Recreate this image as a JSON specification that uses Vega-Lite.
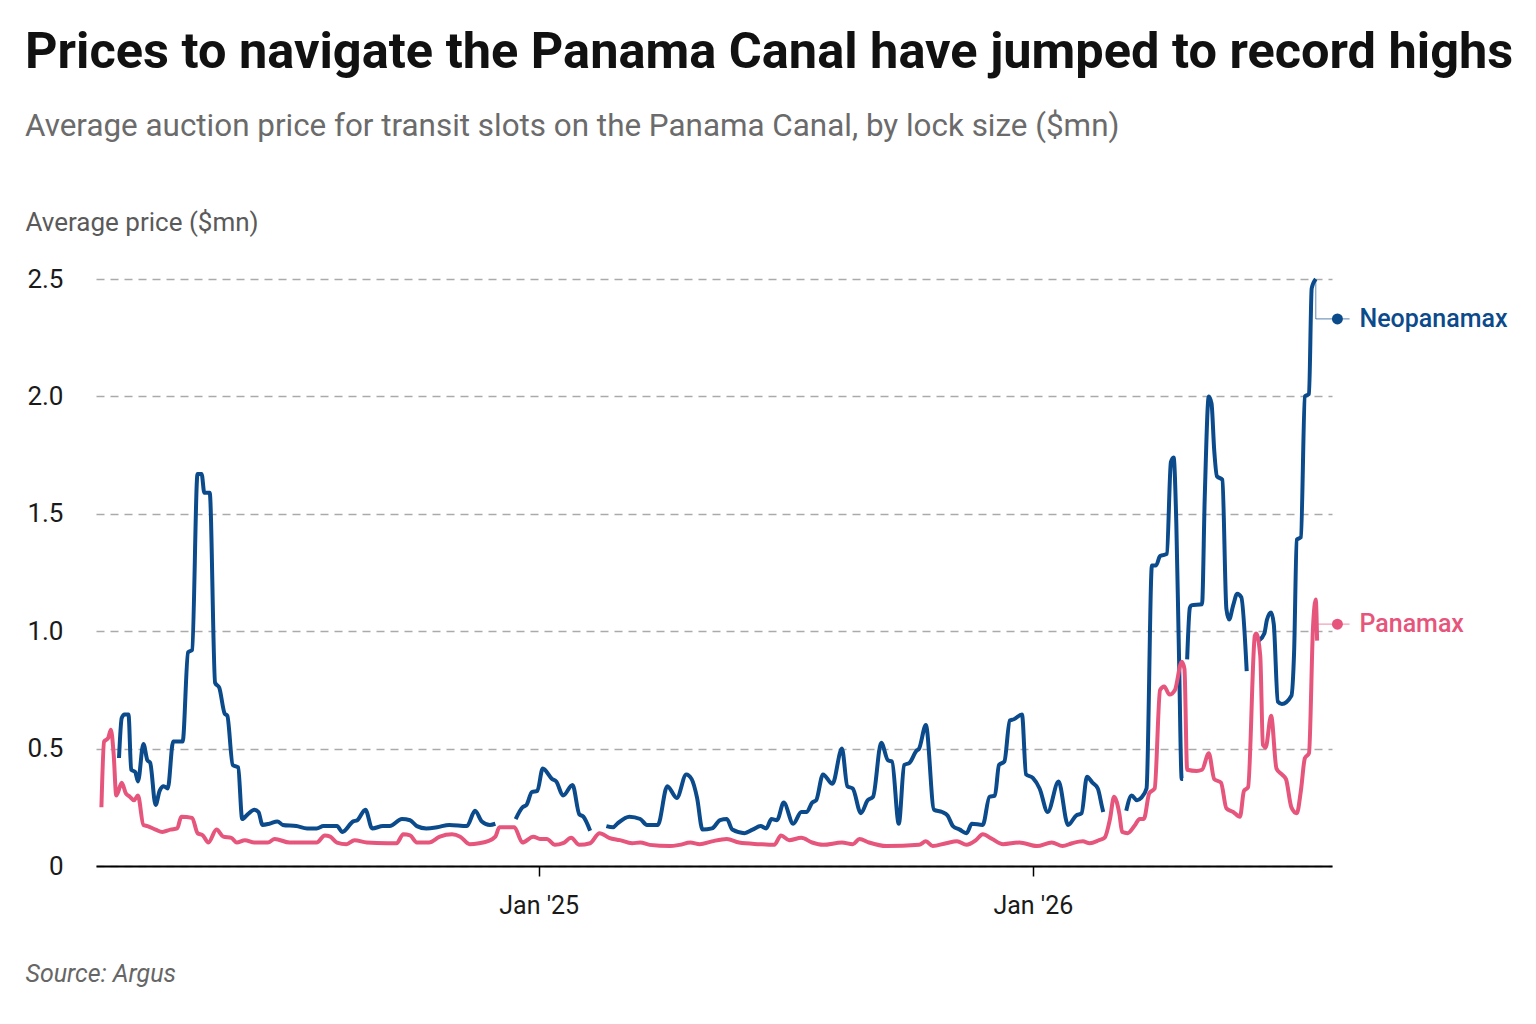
{
  "$schema": "https://vega.github.io/schema/vega-lite/v6.json",
  "width": 1236,
  "height": 587,
  "autosize": {"type": "none"},
  "padding": {"left": 96, "top": 279, "right": 204, "bottom": 158},
  "background": "white",
  "title": {
    "text": "Prices to navigate the Panama Canal have jumped to record highs",
    "subtitle": "Average auction price for transit slots on the Panama Canal, by lock size ($mn)",
    "anchor": "start",
    "frame": "bounds",
    "font": "Roboto",
    "fontSize": 50.5,
    "fontWeight": "bold",
    "color": "#111111",
    "subtitleFont": "Roboto",
    "subtitleFontSize": 31.4,
    "subtitleColor": "#6b6b6b",
    "subtitlePadding": 32,
    "offset": 67
  },
  "datasets": {
    "prices": [
      {"date": "2024-02-26", "series": "Neopanamax", "value": 0.46},
      {"date": "2024-02-28", "series": "Neopanamax", "value": 0.63},
      {"date": "2024-03-01", "series": "Neopanamax", "value": 0.645},
      {"date": "2024-03-04", "series": "Neopanamax", "value": 0.645},
      {"date": "2024-03-06", "series": "Neopanamax", "value": 0.41},
      {"date": "2024-03-09", "series": "Neopanamax", "value": 0.40},
      {"date": "2024-03-11", "series": "Neopanamax", "value": 0.36},
      {"date": "2024-03-15", "series": "Neopanamax", "value": 0.52},
      {"date": "2024-03-18", "series": "Neopanamax", "value": 0.45},
      {"date": "2024-03-20", "series": "Neopanamax", "value": 0.44},
      {"date": "2024-03-24", "series": "Neopanamax", "value": 0.26},
      {"date": "2024-03-27", "series": "Neopanamax", "value": 0.32},
      {"date": "2024-03-30", "series": "Neopanamax", "value": 0.34},
      {"date": "2024-04-02", "series": "Neopanamax", "value": 0.33},
      {"date": "2024-04-06", "series": "Neopanamax", "value": 0.53},
      {"date": "2024-04-13", "series": "Neopanamax", "value": 0.53},
      {"date": "2024-04-17", "series": "Neopanamax", "value": 0.91},
      {"date": "2024-04-20", "series": "Neopanamax", "value": 0.92},
      {"date": "2024-04-24", "series": "Neopanamax", "value": 1.67},
      {"date": "2024-04-27", "series": "Neopanamax", "value": 1.67},
      {"date": "2024-04-29", "series": "Neopanamax", "value": 1.59},
      {"date": "2024-05-03", "series": "Neopanamax", "value": 1.59},
      {"date": "2024-05-07", "series": "Neopanamax", "value": 0.78},
      {"date": "2024-05-10", "series": "Neopanamax", "value": 0.76},
      {"date": "2024-05-14", "series": "Neopanamax", "value": 0.65},
      {"date": "2024-05-16", "series": "Neopanamax", "value": 0.64},
      {"date": "2024-05-20", "series": "Neopanamax", "value": 0.43},
      {"date": "2024-05-24", "series": "Neopanamax", "value": 0.42},
      {"date": "2024-05-27", "series": "Neopanamax", "value": 0.20},
      {"date": "2024-05-31", "series": "Neopanamax", "value": 0.22},
      {"date": "2024-06-05", "series": "Neopanamax", "value": 0.24},
      {"date": "2024-06-08", "series": "Neopanamax", "value": 0.23},
      {"date": "2024-06-11", "series": "Neopanamax", "value": 0.175},
      {"date": "2024-06-16", "series": "Neopanamax", "value": 0.18},
      {"date": "2024-06-22", "series": "Neopanamax", "value": 0.19},
      {"date": "2024-06-26", "series": "Neopanamax", "value": 0.175},
      {"date": "2024-07-06", "series": "Neopanamax", "value": 0.17},
      {"date": "2024-07-14", "series": "Neopanamax", "value": 0.16},
      {"date": "2024-07-21", "series": "Neopanamax", "value": 0.16},
      {"date": "2024-07-26", "series": "Neopanamax", "value": 0.17},
      {"date": "2024-08-05", "series": "Neopanamax", "value": 0.17},
      {"date": "2024-08-09", "series": "Neopanamax", "value": 0.145},
      {"date": "2024-08-17", "series": "Neopanamax", "value": 0.19},
      {"date": "2024-08-20", "series": "Neopanamax", "value": 0.195},
      {"date": "2024-08-26", "series": "Neopanamax", "value": 0.24},
      {"date": "2024-08-31", "series": "Neopanamax", "value": 0.16},
      {"date": "2024-09-08", "series": "Neopanamax", "value": 0.17},
      {"date": "2024-09-13", "series": "Neopanamax", "value": 0.17},
      {"date": "2024-09-22", "series": "Neopanamax", "value": 0.20},
      {"date": "2024-09-28", "series": "Neopanamax", "value": 0.195},
      {"date": "2024-10-03", "series": "Neopanamax", "value": 0.17},
      {"date": "2024-10-10", "series": "Neopanamax", "value": 0.16},
      {"date": "2024-10-18", "series": "Neopanamax", "value": 0.165},
      {"date": "2024-10-27", "series": "Neopanamax", "value": 0.175},
      {"date": "2024-11-09", "series": "Neopanamax", "value": 0.17},
      {"date": "2024-11-15", "series": "Neopanamax", "value": 0.235},
      {"date": "2024-11-20", "series": "Neopanamax", "value": 0.19},
      {"date": "2024-11-26", "series": "Neopanamax", "value": 0.175},
      {"date": "2024-11-30", "series": "Neopanamax", "value": 0.18},
      {"date": "2024-12-07", "series": "Neopanamax", "value": null},
      {"date": "2024-12-15", "series": "Neopanamax", "value": 0.20},
      {"date": "2024-12-20", "series": "Neopanamax", "value": 0.25},
      {"date": "2024-12-23", "series": "Neopanamax", "value": 0.26},
      {"date": "2024-12-27", "series": "Neopanamax", "value": 0.315},
      {"date": "2024-12-31", "series": "Neopanamax", "value": 0.32},
      {"date": "2025-01-04", "series": "Neopanamax", "value": 0.415},
      {"date": "2025-01-11", "series": "Neopanamax", "value": 0.37},
      {"date": "2025-01-14", "series": "Neopanamax", "value": 0.36},
      {"date": "2025-01-19", "series": "Neopanamax", "value": 0.30},
      {"date": "2025-01-26", "series": "Neopanamax", "value": 0.345},
      {"date": "2025-01-31", "series": "Neopanamax", "value": 0.22},
      {"date": "2025-02-03", "series": "Neopanamax", "value": 0.21},
      {"date": "2025-02-08", "series": "Neopanamax", "value": 0.15},
      {"date": "2025-02-14", "series": "Neopanamax", "value": null},
      {"date": "2025-02-20", "series": "Neopanamax", "value": 0.17},
      {"date": "2025-02-25", "series": "Neopanamax", "value": 0.165},
      {"date": "2025-02-28", "series": "Neopanamax", "value": 0.18},
      {"date": "2025-03-09", "series": "Neopanamax", "value": 0.21},
      {"date": "2025-03-17", "series": "Neopanamax", "value": 0.20},
      {"date": "2025-03-22", "series": "Neopanamax", "value": 0.175},
      {"date": "2025-03-30", "series": "Neopanamax", "value": 0.175},
      {"date": "2025-04-06", "series": "Neopanamax", "value": 0.34},
      {"date": "2025-04-13", "series": "Neopanamax", "value": 0.29},
      {"date": "2025-04-20", "series": "Neopanamax", "value": 0.39},
      {"date": "2025-04-24", "series": "Neopanamax", "value": 0.37},
      {"date": "2025-04-28", "series": "Neopanamax", "value": 0.29},
      {"date": "2025-05-02", "series": "Neopanamax", "value": 0.155},
      {"date": "2025-05-09", "series": "Neopanamax", "value": 0.16},
      {"date": "2025-05-15", "series": "Neopanamax", "value": 0.195},
      {"date": "2025-05-20", "series": "Neopanamax", "value": 0.20},
      {"date": "2025-05-24", "series": "Neopanamax", "value": 0.155},
      {"date": "2025-06-02", "series": "Neopanamax", "value": 0.14},
      {"date": "2025-06-08", "series": "Neopanamax", "value": 0.155},
      {"date": "2025-06-14", "series": "Neopanamax", "value": 0.17},
      {"date": "2025-06-18", "series": "Neopanamax", "value": 0.16},
      {"date": "2025-06-22", "series": "Neopanamax", "value": 0.20},
      {"date": "2025-06-26", "series": "Neopanamax", "value": 0.195},
      {"date": "2025-07-01", "series": "Neopanamax", "value": 0.27},
      {"date": "2025-07-08", "series": "Neopanamax", "value": 0.18},
      {"date": "2025-07-14", "series": "Neopanamax", "value": 0.23},
      {"date": "2025-07-18", "series": "Neopanamax", "value": 0.23},
      {"date": "2025-07-22", "series": "Neopanamax", "value": 0.27},
      {"date": "2025-07-25", "series": "Neopanamax", "value": 0.28},
      {"date": "2025-07-30", "series": "Neopanamax", "value": 0.39},
      {"date": "2025-08-06", "series": "Neopanamax", "value": 0.35},
      {"date": "2025-08-13", "series": "Neopanamax", "value": 0.50},
      {"date": "2025-08-17", "series": "Neopanamax", "value": 0.34},
      {"date": "2025-08-21", "series": "Neopanamax", "value": 0.33},
      {"date": "2025-08-27", "series": "Neopanamax", "value": 0.225},
      {"date": "2025-09-01", "series": "Neopanamax", "value": 0.28},
      {"date": "2025-09-05", "series": "Neopanamax", "value": 0.295},
      {"date": "2025-09-11", "series": "Neopanamax", "value": 0.525},
      {"date": "2025-09-16", "series": "Neopanamax", "value": 0.45},
      {"date": "2025-09-19", "series": "Neopanamax", "value": 0.445},
      {"date": "2025-09-24", "series": "Neopanamax", "value": 0.18},
      {"date": "2025-09-28", "series": "Neopanamax", "value": 0.43},
      {"date": "2025-10-02", "series": "Neopanamax", "value": 0.44},
      {"date": "2025-10-07", "series": "Neopanamax", "value": 0.49},
      {"date": "2025-10-09", "series": "Neopanamax", "value": 0.50},
      {"date": "2025-10-14", "series": "Neopanamax", "value": 0.60},
      {"date": "2025-10-20", "series": "Neopanamax", "value": 0.24},
      {"date": "2025-10-26", "series": "Neopanamax", "value": 0.23},
      {"date": "2025-10-30", "series": "Neopanamax", "value": 0.215},
      {"date": "2025-11-03", "series": "Neopanamax", "value": 0.17},
      {"date": "2025-11-08", "series": "Neopanamax", "value": 0.155},
      {"date": "2025-11-13", "series": "Neopanamax", "value": 0.14},
      {"date": "2025-11-17", "series": "Neopanamax", "value": 0.18},
      {"date": "2025-11-25", "series": "Neopanamax", "value": 0.175},
      {"date": "2025-11-30", "series": "Neopanamax", "value": 0.295},
      {"date": "2025-12-04", "series": "Neopanamax", "value": 0.30},
      {"date": "2025-12-07", "series": "Neopanamax", "value": 0.43},
      {"date": "2025-12-11", "series": "Neopanamax", "value": 0.445},
      {"date": "2025-12-15", "series": "Neopanamax", "value": 0.62},
      {"date": "2025-12-18", "series": "Neopanamax", "value": 0.625},
      {"date": "2025-12-24", "series": "Neopanamax", "value": 0.645},
      {"date": "2025-12-27", "series": "Neopanamax", "value": 0.39},
      {"date": "2026-01-01", "series": "Neopanamax", "value": 0.375},
      {"date": "2026-01-06", "series": "Neopanamax", "value": 0.33},
      {"date": "2026-01-12", "series": "Neopanamax", "value": 0.23},
      {"date": "2026-01-20", "series": "Neopanamax", "value": 0.36},
      {"date": "2026-01-27", "series": "Neopanamax", "value": 0.175},
      {"date": "2026-02-02", "series": "Neopanamax", "value": 0.215},
      {"date": "2026-02-06", "series": "Neopanamax", "value": 0.225},
      {"date": "2026-02-10", "series": "Neopanamax", "value": 0.38},
      {"date": "2026-02-14", "series": "Neopanamax", "value": 0.355},
      {"date": "2026-02-18", "series": "Neopanamax", "value": 0.33},
      {"date": "2026-02-21", "series": "Neopanamax", "value": 0.255},
      {"date": "2026-02-22", "series": "Neopanamax", "value": 0.23},
      {"date": "2026-02-26", "series": "Neopanamax", "value": null},
      {"date": "2026-03-11", "series": "Neopanamax", "value": 0.235},
      {"date": "2026-03-15", "series": "Neopanamax", "value": 0.30},
      {"date": "2026-03-19", "series": "Neopanamax", "value": 0.28},
      {"date": "2026-03-22", "series": "Neopanamax", "value": 0.29},
      {"date": "2026-03-26", "series": "Neopanamax", "value": 0.33},
      {"date": "2026-03-30", "series": "Neopanamax", "value": 1.28},
      {"date": "2026-04-02", "series": "Neopanamax", "value": 1.28},
      {"date": "2026-04-05", "series": "Neopanamax", "value": 1.32},
      {"date": "2026-04-08", "series": "Neopanamax", "value": 1.325},
      {"date": "2026-04-10", "series": "Neopanamax", "value": 1.33},
      {"date": "2026-04-13", "series": "Neopanamax", "value": 1.72},
      {"date": "2026-04-15", "series": "Neopanamax", "value": 1.74},
      {"date": "2026-04-17", "series": "Neopanamax", "value": 1.46},
      {"date": "2026-04-19", "series": "Neopanamax", "value": 0.89},
      {"date": "2026-04-21", "series": "Neopanamax", "value": 0.37},
      {"date": "2026-04-22", "series": "Neopanamax", "value": 0.37},
      {"date": "2026-04-23", "series": "Neopanamax", "value": null},
      {"date": "2026-04-25", "series": "Neopanamax", "value": 0.88},
      {"date": "2026-04-27", "series": "Neopanamax", "value": 1.10},
      {"date": "2026-04-28", "series": "Neopanamax", "value": 1.11},
      {"date": "2026-05-06", "series": "Neopanamax", "value": 1.115},
      {"date": "2026-05-08", "series": "Neopanamax", "value": 1.57},
      {"date": "2026-05-11", "series": "Neopanamax", "value": 2.0},
      {"date": "2026-05-13", "series": "Neopanamax", "value": 1.97},
      {"date": "2026-05-15", "series": "Neopanamax", "value": 1.77},
      {"date": "2026-05-17", "series": "Neopanamax", "value": 1.66},
      {"date": "2026-05-21", "series": "Neopanamax", "value": 1.645},
      {"date": "2026-05-24", "series": "Neopanamax", "value": 1.095},
      {"date": "2026-05-26", "series": "Neopanamax", "value": 1.05},
      {"date": "2026-05-29", "series": "Neopanamax", "value": 1.11},
      {"date": "2026-06-01", "series": "Neopanamax", "value": 1.16},
      {"date": "2026-06-04", "series": "Neopanamax", "value": 1.145},
      {"date": "2026-06-08", "series": "Neopanamax", "value": 0.83},
      {"date": "2026-06-12", "series": "Neopanamax", "value": null},
      {"date": "2026-06-17", "series": "Neopanamax", "value": 0.96},
      {"date": "2026-06-21", "series": "Neopanamax", "value": 0.99},
      {"date": "2026-06-23", "series": "Neopanamax", "value": 1.05},
      {"date": "2026-06-26", "series": "Neopanamax", "value": 1.08},
      {"date": "2026-06-28", "series": "Neopanamax", "value": 1.03},
      {"date": "2026-07-01", "series": "Neopanamax", "value": 0.70},
      {"date": "2026-07-04", "series": "Neopanamax", "value": 0.69},
      {"date": "2026-07-11", "series": "Neopanamax", "value": 0.725},
      {"date": "2026-07-13", "series": "Neopanamax", "value": 0.91},
      {"date": "2026-07-15", "series": "Neopanamax", "value": 1.39},
      {"date": "2026-07-18", "series": "Neopanamax", "value": 1.40},
      {"date": "2026-07-21", "series": "Neopanamax", "value": 2.0},
      {"date": "2026-07-24", "series": "Neopanamax", "value": 2.01},
      {"date": "2026-07-26", "series": "Neopanamax", "value": 2.46},
      {"date": "2026-07-29", "series": "Neopanamax", "value": 2.50},
      {"date": "2024-02-13", "series": "Panamax", "value": 0.25},
      {"date": "2024-02-15", "series": "Panamax", "value": 0.53},
      {"date": "2024-02-18", "series": "Panamax", "value": 0.545},
      {"date": "2024-02-20", "series": "Panamax", "value": 0.58},
      {"date": "2024-02-22", "series": "Panamax", "value": 0.48},
      {"date": "2024-02-24", "series": "Panamax", "value": 0.30},
      {"date": "2024-02-25", "series": "Panamax", "value": 0.31},
      {"date": "2024-02-28", "series": "Panamax", "value": 0.355},
      {"date": "2024-03-02", "series": "Panamax", "value": 0.31},
      {"date": "2024-03-05", "series": "Panamax", "value": 0.295},
      {"date": "2024-03-08", "series": "Panamax", "value": 0.28},
      {"date": "2024-03-11", "series": "Panamax", "value": 0.30},
      {"date": "2024-03-15", "series": "Panamax", "value": 0.175},
      {"date": "2024-03-18", "series": "Panamax", "value": 0.17},
      {"date": "2024-03-24", "series": "Panamax", "value": 0.155},
      {"date": "2024-03-29", "series": "Panamax", "value": 0.145},
      {"date": "2024-04-04", "series": "Panamax", "value": 0.155},
      {"date": "2024-04-09", "series": "Panamax", "value": 0.16},
      {"date": "2024-04-12", "series": "Panamax", "value": 0.21},
      {"date": "2024-04-20", "series": "Panamax", "value": 0.205},
      {"date": "2024-04-24", "series": "Panamax", "value": 0.14},
      {"date": "2024-04-28", "series": "Panamax", "value": 0.13},
      {"date": "2024-05-02", "series": "Panamax", "value": 0.10},
      {"date": "2024-05-08", "series": "Panamax", "value": 0.155},
      {"date": "2024-05-13", "series": "Panamax", "value": 0.125},
      {"date": "2024-05-19", "series": "Panamax", "value": 0.12},
      {"date": "2024-05-23", "series": "Panamax", "value": 0.10},
      {"date": "2024-05-29", "series": "Panamax", "value": 0.11},
      {"date": "2024-06-05", "series": "Panamax", "value": 0.10},
      {"date": "2024-06-15", "series": "Panamax", "value": 0.10},
      {"date": "2024-06-20", "series": "Panamax", "value": 0.115},
      {"date": "2024-07-01", "series": "Panamax", "value": 0.10},
      {"date": "2024-07-21", "series": "Panamax", "value": 0.10},
      {"date": "2024-07-27", "series": "Panamax", "value": 0.13},
      {"date": "2024-07-31", "series": "Panamax", "value": 0.125},
      {"date": "2024-08-05", "series": "Panamax", "value": 0.10},
      {"date": "2024-08-12", "series": "Panamax", "value": 0.093},
      {"date": "2024-08-18", "series": "Panamax", "value": 0.11},
      {"date": "2024-08-27", "series": "Panamax", "value": 0.10},
      {"date": "2024-09-11", "series": "Panamax", "value": 0.097},
      {"date": "2024-09-18", "series": "Panamax", "value": 0.097},
      {"date": "2024-09-23", "series": "Panamax", "value": 0.135},
      {"date": "2024-09-28", "series": "Panamax", "value": 0.13},
      {"date": "2024-10-03", "series": "Panamax", "value": 0.10},
      {"date": "2024-10-12", "series": "Panamax", "value": 0.10},
      {"date": "2024-10-20", "series": "Panamax", "value": 0.125},
      {"date": "2024-10-29", "series": "Panamax", "value": 0.135},
      {"date": "2024-11-04", "series": "Panamax", "value": 0.125},
      {"date": "2024-11-11", "series": "Panamax", "value": 0.093},
      {"date": "2024-11-18", "series": "Panamax", "value": 0.097},
      {"date": "2024-11-24", "series": "Panamax", "value": 0.105},
      {"date": "2024-11-30", "series": "Panamax", "value": 0.125},
      {"date": "2024-12-03", "series": "Panamax", "value": 0.165},
      {"date": "2024-12-14", "series": "Panamax", "value": 0.165},
      {"date": "2024-12-20", "series": "Panamax", "value": 0.10},
      {"date": "2024-12-28", "series": "Panamax", "value": 0.125},
      {"date": "2025-01-02", "series": "Panamax", "value": 0.115},
      {"date": "2025-01-07", "series": "Panamax", "value": 0.115},
      {"date": "2025-01-13", "series": "Panamax", "value": 0.09},
      {"date": "2025-01-19", "series": "Panamax", "value": 0.097},
      {"date": "2025-01-25", "series": "Panamax", "value": 0.12},
      {"date": "2025-01-31", "series": "Panamax", "value": 0.09},
      {"date": "2025-02-08", "series": "Panamax", "value": 0.097},
      {"date": "2025-02-15", "series": "Panamax", "value": 0.14},
      {"date": "2025-02-22", "series": "Panamax", "value": 0.12},
      {"date": "2025-03-02", "series": "Panamax", "value": 0.11},
      {"date": "2025-03-11", "series": "Panamax", "value": 0.097},
      {"date": "2025-03-17", "series": "Panamax", "value": 0.10},
      {"date": "2025-03-24", "series": "Panamax", "value": 0.09},
      {"date": "2025-04-08", "series": "Panamax", "value": 0.085},
      {"date": "2025-04-15", "series": "Panamax", "value": 0.09},
      {"date": "2025-04-23", "series": "Panamax", "value": 0.10},
      {"date": "2025-04-30", "series": "Panamax", "value": 0.093},
      {"date": "2025-05-09", "series": "Panamax", "value": 0.105},
      {"date": "2025-05-20", "series": "Panamax", "value": 0.115},
      {"date": "2025-05-29", "series": "Panamax", "value": 0.10},
      {"date": "2025-06-13", "series": "Panamax", "value": 0.093},
      {"date": "2025-06-24", "series": "Panamax", "value": 0.09},
      {"date": "2025-06-29", "series": "Panamax", "value": 0.13},
      {"date": "2025-07-05", "series": "Panamax", "value": 0.11},
      {"date": "2025-07-14", "series": "Panamax", "value": 0.12},
      {"date": "2025-07-22", "series": "Panamax", "value": 0.10},
      {"date": "2025-07-30", "series": "Panamax", "value": 0.09},
      {"date": "2025-08-13", "series": "Panamax", "value": 0.10},
      {"date": "2025-08-21", "series": "Panamax", "value": 0.093},
      {"date": "2025-08-26", "series": "Panamax", "value": 0.115},
      {"date": "2025-09-02", "series": "Panamax", "value": 0.10},
      {"date": "2025-09-15", "series": "Panamax", "value": 0.085},
      {"date": "2025-10-09", "series": "Panamax", "value": 0.09},
      {"date": "2025-10-14", "series": "Panamax", "value": 0.105},
      {"date": "2025-10-19", "series": "Panamax", "value": 0.085},
      {"date": "2025-10-29", "series": "Panamax", "value": 0.097},
      {"date": "2025-11-06", "series": "Panamax", "value": 0.105},
      {"date": "2025-11-13", "series": "Panamax", "value": 0.09},
      {"date": "2025-11-20", "series": "Panamax", "value": 0.11},
      {"date": "2025-11-25", "series": "Panamax", "value": 0.135},
      {"date": "2025-12-02", "series": "Panamax", "value": 0.115},
      {"date": "2025-12-10", "series": "Panamax", "value": 0.093},
      {"date": "2025-12-22", "series": "Panamax", "value": 0.10},
      {"date": "2026-01-04", "series": "Panamax", "value": 0.085},
      {"date": "2026-01-15", "series": "Panamax", "value": 0.10},
      {"date": "2026-01-23", "series": "Panamax", "value": 0.085},
      {"date": "2026-01-30", "series": "Panamax", "value": 0.097},
      {"date": "2026-02-07", "series": "Panamax", "value": 0.105},
      {"date": "2026-02-12", "series": "Panamax", "value": 0.097},
      {"date": "2026-02-19", "series": "Panamax", "value": 0.11},
      {"date": "2026-02-23", "series": "Panamax", "value": 0.12},
      {"date": "2026-02-27", "series": "Panamax", "value": 0.20},
      {"date": "2026-03-02", "series": "Panamax", "value": 0.295},
      {"date": "2026-03-06", "series": "Panamax", "value": 0.22},
      {"date": "2026-03-08", "series": "Panamax", "value": 0.145},
      {"date": "2026-03-12", "series": "Panamax", "value": 0.14},
      {"date": "2026-03-17", "series": "Panamax", "value": 0.17},
      {"date": "2026-03-21", "series": "Panamax", "value": 0.20},
      {"date": "2026-03-24", "series": "Panamax", "value": 0.20},
      {"date": "2026-03-28", "series": "Panamax", "value": 0.31},
      {"date": "2026-04-01", "series": "Panamax", "value": 0.33},
      {"date": "2026-04-05", "series": "Panamax", "value": 0.75},
      {"date": "2026-04-08", "series": "Panamax", "value": 0.765},
      {"date": "2026-04-12", "series": "Panamax", "value": 0.73},
      {"date": "2026-04-16", "series": "Panamax", "value": 0.75},
      {"date": "2026-04-21", "series": "Panamax", "value": 0.87},
      {"date": "2026-04-23", "series": "Panamax", "value": 0.84},
      {"date": "2026-04-25", "series": "Panamax", "value": 0.41},
      {"date": "2026-05-02", "series": "Panamax", "value": 0.405},
      {"date": "2026-05-06", "series": "Panamax", "value": 0.41},
      {"date": "2026-05-11", "series": "Panamax", "value": 0.48},
      {"date": "2026-05-15", "series": "Panamax", "value": 0.37},
      {"date": "2026-05-20", "series": "Panamax", "value": 0.355},
      {"date": "2026-05-24", "series": "Panamax", "value": 0.245},
      {"date": "2026-05-29", "series": "Panamax", "value": 0.23},
      {"date": "2026-06-03", "series": "Panamax", "value": 0.21},
      {"date": "2026-06-06", "series": "Panamax", "value": 0.32},
      {"date": "2026-06-09", "series": "Panamax", "value": 0.335},
      {"date": "2026-06-14", "series": "Panamax", "value": 0.98},
      {"date": "2026-06-15", "series": "Panamax", "value": 0.99},
      {"date": "2026-06-18", "series": "Panamax", "value": 0.895},
      {"date": "2026-06-20", "series": "Panamax", "value": 0.515},
      {"date": "2026-06-22", "series": "Panamax", "value": 0.505},
      {"date": "2026-06-26", "series": "Panamax", "value": 0.64},
      {"date": "2026-06-30", "series": "Panamax", "value": 0.415},
      {"date": "2026-07-04", "series": "Panamax", "value": 0.39},
      {"date": "2026-07-07", "series": "Panamax", "value": 0.37},
      {"date": "2026-07-11", "series": "Panamax", "value": 0.25},
      {"date": "2026-07-15", "series": "Panamax", "value": 0.225},
      {"date": "2026-07-18", "series": "Panamax", "value": 0.32},
      {"date": "2026-07-21", "series": "Panamax", "value": 0.46},
      {"date": "2026-07-24", "series": "Panamax", "value": 0.48},
      {"date": "2026-07-27", "series": "Panamax", "value": 1.02},
      {"date": "2026-07-29", "series": "Panamax", "value": 1.135},
      {"date": "2026-07-30", "series": "Panamax", "value": 0.96}
    ],
    "leaders": [
      {"series": "Neopanamax", "x": "2026-07-29", "x2": "2026-07-29", "y": 2.5, "y2": 2.33},
      {"series": "Neopanamax", "x": "2026-07-29", "x2": "2026-08-23", "y": 2.33, "y2": 2.33},
      {"series": "Panamax", "x": "2026-07-30", "x2": "2026-08-23", "y": 1.03, "y2": 1.03}
    ],
    "labels": [
      {"series": "Neopanamax", "date": "2026-08-14", "value": 2.33},
      {"series": "Panamax", "date": "2026-08-14", "value": 1.03}
    ]
  },
  "layer": [
    {
      "data": {"name": "prices"},
      "mark": {"type": "line", "strokeWidth": 4, "interpolate": "monotone", "invalid": "break-paths-filter-domains"},
      "encoding": {
        "x": {
          "field": "date",
          "type": "temporal",
          "title": "Source: Argus",
          "scale": {"type": "utc", "domain": [{"year": 2024, "month": 2, "date": 9, "utc": true}, {"year": 2026, "month": 8, "date": 10, "utc": true}]},
          "axis": {
            "values": [{"year": 2025, "month": 1, "date": 1, "utc": true}, {"year": 2026, "month": 1, "date": 1, "utc": true}],
            "format": "%b '%y",
            "grid": false,
            "domainColor": "#000000",
            "domainWidth": 2,
            "tickColor": "#000000",
            "tickWidth": 1.5,
            "tickSize": 10,
            "labelFont": "Roboto",
            "labelFontSize": 25,
            "labelColor": "#1a1a1a",
            "labelPadding": 17,
            "titleFont": "Roboto",
            "titleFontSize": 25,
            "titleFontStyle": "italic",
            "titleFontWeight": "normal",
            "titleColor": "#666666",
            "titleAnchor": "start",
            "titleAlign": "left",
            "titleBaseline": "alphabetic",
            "titleX": -71,
            "titleY": 115
          }
        },
        "y": {
          "field": "value",
          "type": "quantitative",
          "title": "Average price ($mn)",
          "scale": {"domain": [0, 2.5], "nice": false},
          "axis": {
            "values": [0, 0.5, 1, 1.5, 2, 2.5],
            "labelExpr": "datum.value == 0 ? '0' : format(datum.value, '.1f')",
            "domain": false,
            "ticks": false,
            "grid": true,
            "gridDash": [8, 6],
            "gridColor": "#aaaaaa",
            "gridWidth": 1.3,
            "labelFont": "Roboto",
            "labelFontSize": 26,
            "labelColor": "#1a1a1a",
            "labelPadding": 33,
            "titleAngle": 0,
            "titleAlign": "left",
            "titleBaseline": "alphabetic",
            "titleX": -71,
            "titleY": -49,
            "titleFont": "Roboto",
            "titleFontSize": 26,
            "titleFontWeight": "normal",
            "titleColor": "#5a5a5a"
          }
        },
        "color": {
          "field": "series",
          "type": "nominal",
          "scale": {"domain": ["Neopanamax", "Panamax"], "range": ["#0b4a8b", "#e6557b"]},
          "legend": null
        }
      }
    },
    {
      "data": {"name": "leaders"},
      "mark": {"type": "rule", "strokeWidth": 1.2, "opacity": 0.55},
      "encoding": {
        "x": {"field": "x", "type": "temporal", "title": "Source: Argus"},
        "x2": {"field": "x2"},
        "y": {"field": "y", "type": "quantitative", "title": "Average price ($mn)"},
        "y2": {"field": "y2"},
        "color": {"field": "series", "type": "nominal", "legend": null}
      }
    },
    {
      "data": {"name": "labels"},
      "mark": {"type": "point", "filled": true, "size": 120, "opacity": 1},
      "encoding": {
        "x": {"field": "date", "type": "temporal", "title": "Source: Argus"},
        "y": {"field": "value", "type": "quantitative", "title": "Average price ($mn)"},
        "color": {"field": "series", "type": "nominal", "legend": null}
      }
    },
    {
      "data": {"name": "labels"},
      "mark": {"type": "text", "align": "left", "baseline": "middle", "dx": 22, "font": "Roboto", "fontSize": 25, "fontWeight": 500},
      "encoding": {
        "x": {"field": "date", "type": "temporal", "title": "Source: Argus"},
        "y": {"field": "value", "type": "quantitative", "title": "Average price ($mn)"},
        "text": {"field": "series"},
        "color": {"field": "series", "type": "nominal", "legend": null}
      }
    }
  ],
  "config": {
    "view": {"stroke": null}
  }
}
